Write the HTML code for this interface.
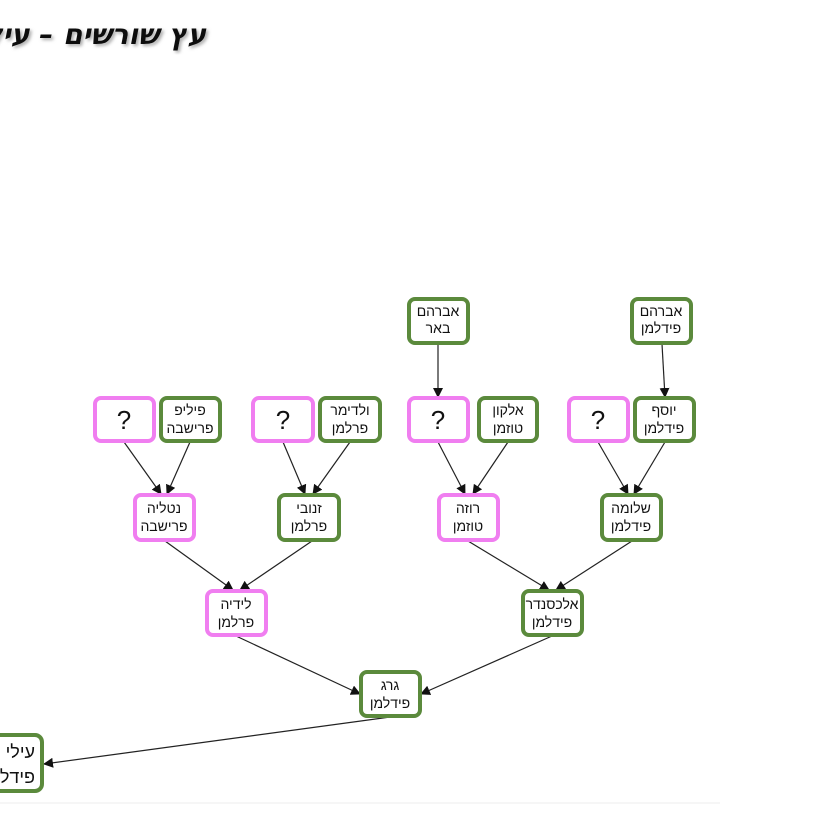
<!DOCTYPE html>
<html><head><meta charset="utf-8">
<style>
html,body{margin:0;padding:0;background:#fff;width:818px;height:822px;overflow:hidden}
svg text{font-family:"Liberation Sans","DejaVu Sans",sans-serif;fill:#111}
</style></head><body>
<svg width="818" height="822" viewBox="0 0 818 822" xmlns="http://www.w3.org/2000/svg">
<defs>
<marker id="a" markerWidth="10" markerHeight="10" refX="9" refY="5" orient="auto" markerUnits="userSpaceOnUse">
<path d="M0,0 L10,5 L0,10 z" fill="#111"/></marker>
<filter id="sh"><feDropShadow dx="2" dy="2" stdDeviation="1.5" flood-color="#888" flood-opacity="0.7"/></filter>
</defs>
<text x="206" y="44" text-anchor="start" direction="rtl" font-size="28" font-style="italic" font-weight="bold" filter="url(#sh)" style="font-family:'DejaVu Sans','Liberation Sans',sans-serif">עץ שורשים – עילי</text>
<line x1="0" y1="803" x2="720" y2="803" stroke="#eee" stroke-width="1"/>
<g stroke="#222" stroke-width="1.2" fill="none" marker-end="url(#a)">
<line x1="438" y1="344" x2="438" y2="397"/>
<line x1="662" y1="344" x2="665" y2="397"/>
<line x1="124" y1="442" x2="161" y2="494"/>
<line x1="190" y1="442" x2="167" y2="494"/>
<line x1="283" y1="442" x2="305" y2="494"/>
<line x1="350" y1="442" x2="313" y2="494"/>
<line x1="438" y1="442" x2="465" y2="494"/>
<line x1="508" y1="442" x2="473" y2="494"/>
<line x1="598" y1="442" x2="628" y2="494"/>
<line x1="665" y1="442" x2="634" y2="494"/>
<line x1="165" y1="541" x2="233" y2="590"/>
<line x1="312" y1="541" x2="240" y2="590"/>
<line x1="468" y1="541" x2="549" y2="590"/>
<line x1="632" y1="541" x2="556" y2="590"/>
<line x1="236" y1="636" x2="360" y2="694"/>
<line x1="552" y1="636" x2="421" y2="694"/>
<line x1="390" y1="717" x2="44" y2="764"/>
</g>
<g stroke-width="4" fill="#fff">
<rect x="409" y="299" width="59" height="44" rx="6" stroke="#5b8a3c"/>
<rect x="632" y="299" width="59" height="44" rx="6" stroke="#5b8a3c"/>
<rect x="95" y="398" width="59" height="43" rx="6" stroke="#f07ef0"/>
<rect x="161" y="398" width="59" height="43" rx="6" stroke="#5b8a3c"/>
<rect x="253" y="398" width="60" height="43" rx="6" stroke="#f07ef0"/>
<rect x="320" y="398" width="60" height="43" rx="6" stroke="#5b8a3c"/>
<rect x="409" y="398" width="59" height="43" rx="6" stroke="#f07ef0"/>
<rect x="479" y="398" width="58" height="43" rx="6" stroke="#5b8a3c"/>
<rect x="569" y="398" width="59" height="43" rx="6" stroke="#f07ef0"/>
<rect x="635" y="398" width="59" height="43" rx="6" stroke="#5b8a3c"/>
<rect x="135" y="495" width="59" height="45" rx="6" stroke="#f07ef0"/>
<rect x="279" y="495" width="60" height="45" rx="6" stroke="#5b8a3c"/>
<rect x="439" y="495" width="59" height="45" rx="6" stroke="#f07ef0"/>
<rect x="602" y="495" width="59" height="45" rx="6" stroke="#5b8a3c"/>
<rect x="207" y="591" width="59" height="44" rx="6" stroke="#f07ef0"/>
<rect x="523" y="591" width="59" height="44" rx="6" stroke="#5b8a3c"/>
<rect x="361" y="672" width="59" height="44" rx="6" stroke="#5b8a3c"/>
<rect x="-20" y="735" width="62" height="56" rx="7" stroke="#5b8a3c"/>
</g>
<g font-size="14" text-anchor="middle" direction="rtl">
<text x="438" y="316">אברהם</text><text x="438" y="333">באר</text>
<text x="661" y="316">אברהם</text><text x="661" y="333">פידלמן</text>
<text x="190" y="415">פיליפ</text><text x="190" y="433">פרישבה</text>
<text x="350" y="415">ולדימר</text><text x="350" y="433">פרלמן</text>
<text x="508" y="415">אלקון</text><text x="508" y="433">טוזמן</text>
<text x="664" y="415">יוסף</text><text x="664" y="433">פידלמן</text>
<text x="164" y="513">נטליה</text><text x="164" y="531">פרישבה</text>
<text x="309" y="513">זנובי</text><text x="309" y="531">פרלמן</text>
<text x="468" y="513">רוזה</text><text x="468" y="531">טוזמן</text>
<text x="631" y="513">שלומה</text><text x="631" y="531">פידלמן</text>
<text x="236" y="609">לידיה</text><text x="236" y="627">פרלמן</text>
<text x="552" y="609">אלכסנדר</text><text x="552" y="627">פידלמן</text>
<text x="390" y="690">גרג</text><text x="390" y="708">פידלמן</text>
</g>
<g font-size="26" text-anchor="middle">
<text x="124" y="429">?</text><text x="283" y="429">?</text><text x="438" y="429">?</text><text x="598" y="429">?</text>
</g>
<g font-size="18" direction="rtl">
<text x="35" y="758" text-anchor="start">עילי</text>
<text x="35" y="783" text-anchor="start">פידלמן</text>
</g>
</svg>
</body></html>
